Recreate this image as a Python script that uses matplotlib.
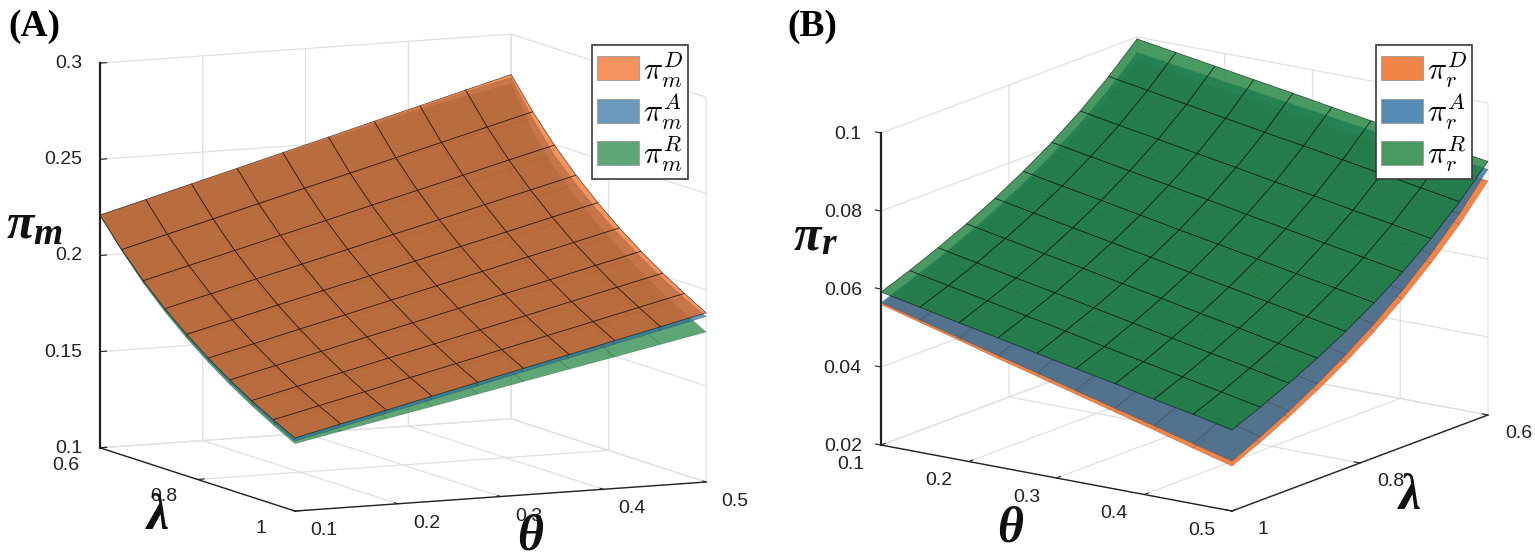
import numpy as np
import matplotlib
matplotlib.use('Agg')
import matplotlib.pyplot as plt
from matplotlib.patches import Patch
from matplotlib.transforms import Affine2D
from mpl_toolkits.mplot3d import proj3d

W, H = 1535, 559
plt.rcParams['font.family'] = ['Liberation Sans', 'DejaVu Sans']

theta = [.1, .1444, .1889, .2333, .2778, .3222, .3667, .4111, .4556, .5]
lam = [.6, .6444, .6889, .7333, .7778, .8222, .8667, .9111, .9556, 1.0]

pi_m_D = [
[.2210,.2274,.2339,.2403,.2468,.2532,.2597,.2661,.2726,.2790],
[.2067,.2130,.2193,.2256,.2319,.2381,.2444,.2507,.2570,.2633],
[.1942,.2004,.2065,.2127,.2188,.2250,.2311,.2373,.2435,.2496],
[.1833,.1893,.1954,.2014,.2074,.2135,.2195,.2256,.2316,.2376],
[.1736,.1795,.1855,.1914,.1973,.2033,.2092,.2151,.2211,.2270],
[.1649,.1707,.1766,.1824,.1883,.1941,.1999,.2058,.2116,.2175],
[.1572,.1630,.1687,.1745,.1802,.1860,.1918,.1975,.2033,.2090],
[.1501,.1558,.1615,.1672,.1728,.1785,.1842,.1899,.1956,.2013],
[.1438,.1494,.1550,.1607,.1663,.1719,.1775,.1831,.1888,.1944],
[.1380,.1436,.1491,.1547,.1602,.1658,.1713,.1769,.1824,.1880]]
pi_m_A = [
[.2210,.2273,.2337,.2400,.2464,.2527,.2591,.2654,.2718,.2775],
[.2065,.2127,.2189,.2250,.2312,.2373,.2434,.2495,.2550,.2597],
[.1937,.1993,.2049,.2106,.2162,.2218,.2274,.2330,.2387,.2443],
[.1825,.1881,.1937,.1993,.2049,.2105,.2161,.2217,.2273,.2329],
[.1727,.1783,.1839,.1894,.1950,.2006,.2062,.2118,.2173,.2229],
[.1638,.1694,.1749,.1805,.1861,.1916,.1972,.2028,.2083,.2139],
[.1559,.1614,.1670,.1725,.1781,.1836,.1891,.1947,.2002,.2058],
[.1488,.1543,.1599,.1654,.1709,.1765,.1820,.1875,.1931,.1986],
[.1423,.1478,.1533,.1589,.1644,.1699,.1754,.1809,.1865,.1920],
[.1364,.1419,.1474,.1529,.1584,.1640,.1695,.1750,.1805,.1860]]
pi_m_R = [
[.2207,.2270,.2333,.2396,.2458,.2520,.2580,.2640,.2695,.2740],
[.2061,.2120,.2178,.2236,.2293,.2349,.2403,.2455,.2497,.2530],
[.1929,.1978,.2028,.2077,.2127,.2176,.2226,.2275,.2325,.2374],
[.1816,.1865,.1914,.1963,.2012,.2062,.2111,.2160,.2209,.2258],
[.1716,.1765,.1814,.1863,.1912,.1961,.2010,.2059,.2107,.2156],
[.1627,.1676,.1724,.1773,.1821,.1870,.1918,.1967,.2015,.2064],
[.1547,.1595,.1644,.1692,.1740,.1789,.1837,.1885,.1934,.1982],
[.1475,.1523,.1571,.1619,.1667,.1716,.1764,.1812,.1860,.1908],
[.1410,.1458,.1506,.1554,.1602,.1649,.1697,.1745,.1793,.1841],
[.1350,.1398,.1446,.1493,.1541,.1589,.1637,.1684,.1732,.1780]]
pi_r_R = [
[.0995,.0979,.0963,.0947,.0931,.0914,.0898,.0882,.0866,.0850],
[.0926,.0909,.0892,.0875,.0858,.0842,.0825,.0808,.0791,.0774],
[.0865,.0847,.0830,.0812,.0795,.0777,.0760,.0742,.0725,.0707],
[.0812,.0794,.0776,.0758,.0740,.0721,.0703,.0685,.0667,.0649],
[.0765,.0746,.0728,.0709,.0690,.0672,.0653,.0634,.0616,.0597],
[.0723,.0704,.0685,.0666,.0647,.0627,.0608,.0589,.0570,.0551],
[.0685,.0666,.0646,.0627,.0607,.0588,.0568,.0549,.0529,.0510],
[.0651,.0631,.0611,.0592,.0572,.0552,.0532,.0512,.0493,.0473],
[.0620,.0600,.0580,.0560,.0540,.0519,.0499,.0479,.0459,.0439],
[.0592,.0572,.0551,.0531,.0510,.0490,.0470,.0449,.0429,.0408]]
pi_r_A = [
[.0960,.0946,.0931,.0917,.0902,.0888,.0873,.0859,.0844,.0830],
[.0892,.0875,.0859,.0842,.0826,.0809,.0793,.0776,.0759,.0743],
[.0833,.0815,.0796,.0778,.0760,.0741,.0723,.0705,.0686,.0668],
[.0780,.0760,.0740,.0721,.0701,.0681,.0661,.0641,.0622,.0602],
[.0734,.0713,.0692,.0670,.0649,.0628,.0607,.0586,.0564,.0543],
[.0693,.0671,.0648,.0626,.0603,.0581,.0559,.0536,.0514,.0491],
[.0656,.0632,.0609,.0585,.0562,.0538,.0514,.0491,.0467,.0444],
[.0623,.0598,.0574,.0549,.0524,.0500,.0475,.0450,.0426,.0401],
[.0593,.0567,.0542,.0516,.0491,.0465,.0439,.0414,.0388,.0363],
[.0565,.0539,.0512,.0486,.0460,.0433,.0407,.0381,.0354,.0328]]
pi_r_D = [
[.0940,.0924,.0909,.0893,.0878,.0862,.0847,.0831,.0816,.0800],
[.0874,.0856,.0839,.0821,.0804,.0786,.0769,.0751,.0733,.0716],
[.0817,.0798,.0779,.0759,.0740,.0721,.0702,.0683,.0663,.0644],
[.0767,.0746,.0725,.0705,.0684,.0663,.0642,.0622,.0601,.0580],
[.0723,.0701,.0679,.0656,.0634,.0612,.0590,.0568,.0545,.0523],
[.0683,.0660,.0636,.0613,.0589,.0566,.0542,.0519,.0495,.0472],
[.0648,.0623,.0599,.0574,.0550,.0525,.0501,.0476,.0452,.0427],
[.0616,.0590,.0565,.0539,.0514,.0488,.0462,.0437,.0411,.0386],
[.0587,.0561,.0534,.0508,.0481,.0455,.0428,.0402,.0375,.0349],
[.0560,.0533,.0506,.0478,.0451,.0424,.0397,.0370,.0342,.0315]]

xticks = [.1, .2, .3, .4, .5]
yticks = [.6, .8, 1]
zticks_a = [.1, .15, .2, .25, .3]
zticks_b = [.02, .04, .06, .08, .1]

ORANGE, BLUE, GREEN = (.94, .40, .10), (.17, .43, .63), (.10, .50, .23)
GRID = '#e0e0e0'

fig = plt.figure(figsize=(W/100, H/100), dpi=100)


def place(ax, pts, targets):
    ax.set_position([0, 0, .4, .4*W/H])
    xs, ys, zs = np.array(pts).T
    def pix():
        X, Y, _ = proj3d.proj_transform(xs, ys, zs, ax.get_proj())
        return ax.transData.transform(np.column_stack([X, Y]))
    t = np.array(targets, float)
    t[:, 1] = H - t[:, 1]
    p = pix()
    s = np.linalg.norm(t - t.mean(0)) / np.linalg.norm(p - p.mean(0))
    ax.set_position([0, 0, .4*s, .4*s*W/H])
    p = pix()
    d = (t - p).mean(0)
    ax.set_position([d[0]/W, d[1]/H, .4*s, .4*s*W/H])


def shift(ax, axis, dx, dy, ha=None):
    # the 3D axis resets label transforms on every draw, so pin the shifted one
    for t in axis.get_major_ticks():
        t.label1.set_transform(ax.transData + Affine2D().translate(dx, dy))
        t.label1.set_transform = lambda *_a, **_k: None
        if ha:
            t.label1.set_ha(ha)


def panel(azim, elev, aspect, zlim, zticks, surfaces, alpha, pts, targets, zpos):
    ax = fig.add_subplot(projection='3d', computed_zorder=False)
    ax.set_proj_type('ortho')
    ax.view_init(elev=elev, azim=azim)
    ax.set_box_aspect(aspect)
    ax.set_xlim(.1, .5, view_margin=0)
    ax.set_ylim(1, .6, view_margin=0)
    ax.set_zlim(*zlim, view_margin=0)
    ax.patch.set_alpha(0)
    T, L = np.meshgrid(theta, lam)
    n = len(surfaces)
    for k, (vals, col) in enumerate(surfaces):
        top = k == n-1
        ax.plot_surface(T, L, np.array(vals), rstride=1, cstride=1, shade=False,
                        color=col + (alpha,), edgecolor=(0, 0, 0, .6 if top else .25),
                        linewidth=.55 if top else .4, zorder=k+2)
    ax.set_xticks(xticks, [f'{v:g}' for v in xticks])
    ax.set_yticks(yticks, [f'{v:g}' for v in yticks])
    ax.set_zticks(zticks, [f'{v:g}' for v in zticks])
    for a in (ax.xaxis, ax.yaxis, ax.zaxis):
        a.set_pane_color((1, 1, 1, 0))
        a.pane.set_edgecolor(GRID)
        a._axinfo['grid'].update(color=GRID, linewidth=.9)
        a._axinfo['tick'].update(inward_factor=0, outward_factor=.2)
        a.line.set_color('#222222')
        a.line.set_linewidth(1.0)
    ax.zaxis.line.set_linewidth(1.6)
    ax.zaxis.set_ticks_position(zpos)
    ax.tick_params(labelsize=14, pad=0, colors='#222222')
    place(ax, pts, targets)
    return ax


axA = panel(-115, 8.7, (453.5, 461, 389), (.1, .3), zticks_a,
            [(pi_m_R, GREEN), (pi_m_A, BLUE), (pi_m_D, ORANGE)], .7,
            [(.1, .6, .1), (.1, 1, .1), (.5, 1, .1), (.1, .6, .3)],
            [(100, 448), (295, 511), (706, 482), (100, 63)], 'default')
axB = panel(-54.7, 15.4, (430, 443, 323.6), (.02, .1), zticks_b,
            [(pi_r_D, ORANGE), (pi_r_A, BLUE), (pi_r_R, GREEN)], .8,
            [(.1, 1, .02), (.5, 1, .02), (.5, .6, .02), (.1, 1, .1)],
            [(881, 445), (1232, 511), (1488, 415), (881, 133)], 'upper')

shift(axA, axA.xaxis, 23, 2)
shift(axA, axA.yaxis, -22, 3)
shift(axA, axA.zaxis, 0, 7, 'right')
shift(axB, axB.xaxis, -22, 2)
shift(axB, axB.yaxis, 20, 2)
shift(axB, axB.zaxis, 0, 8, 'right')


def legend(ax, sub, alpha, x0):
    handles = [Patch(facecolor=c + (alpha,), edgecolor='#9a9a9a', linewidth=.6)
               for c in (ORANGE, BLUE, GREEN)]
    labels = [rf'$\pi_{sub}^{{{k}}}\,$' for k in 'DAR']
    leg = ax.legend(handles, labels, loc='upper left',
                    bbox_to_anchor=(x0/W, 1-45/H), bbox_transform=fig.transFigure,
                    fontsize=23, fancybox=False, framealpha=1,
                    edgecolor='#3a3a3a', borderpad=.15, labelspacing=.07,
                    handlelength=1.31, handleheight=.77, handletextpad=.14, borderaxespad=0)
    leg.get_frame().set_linewidth(1.2)
    for t in leg.get_texts():
        t.set_math_fontfamily('cm')


legend(axA, 'm', .7, 592)
legend(axB, 'r', .8, 1376)


def label(x, y, s, size):
    fig.text(x/W, 1-y/H, s, fontsize=size, ha='center', va='center', color='#111111',
             family='Liberation Serif', fontweight='bold', fontstyle='italic')


label(20, 226, 'π', 36)
label(48, 234, 'm', 27)
label(158, 517, 'λ', 36)
label(530, 537, 'θ', 36)
label(807, 238, 'π', 36)
label(829, 245, 'r', 27)
label(1010, 530, 'θ', 36)
label(1410, 497, 'λ', 36)

for x, s in ((8, '(A)'), (787, '(B)')):
    fig.text(x/W, 1-26/H, s, fontsize=27, fontweight='bold', family='Liberation Serif',
             ha='left', va='center')

fig.savefig('out.png', dpi=100)
